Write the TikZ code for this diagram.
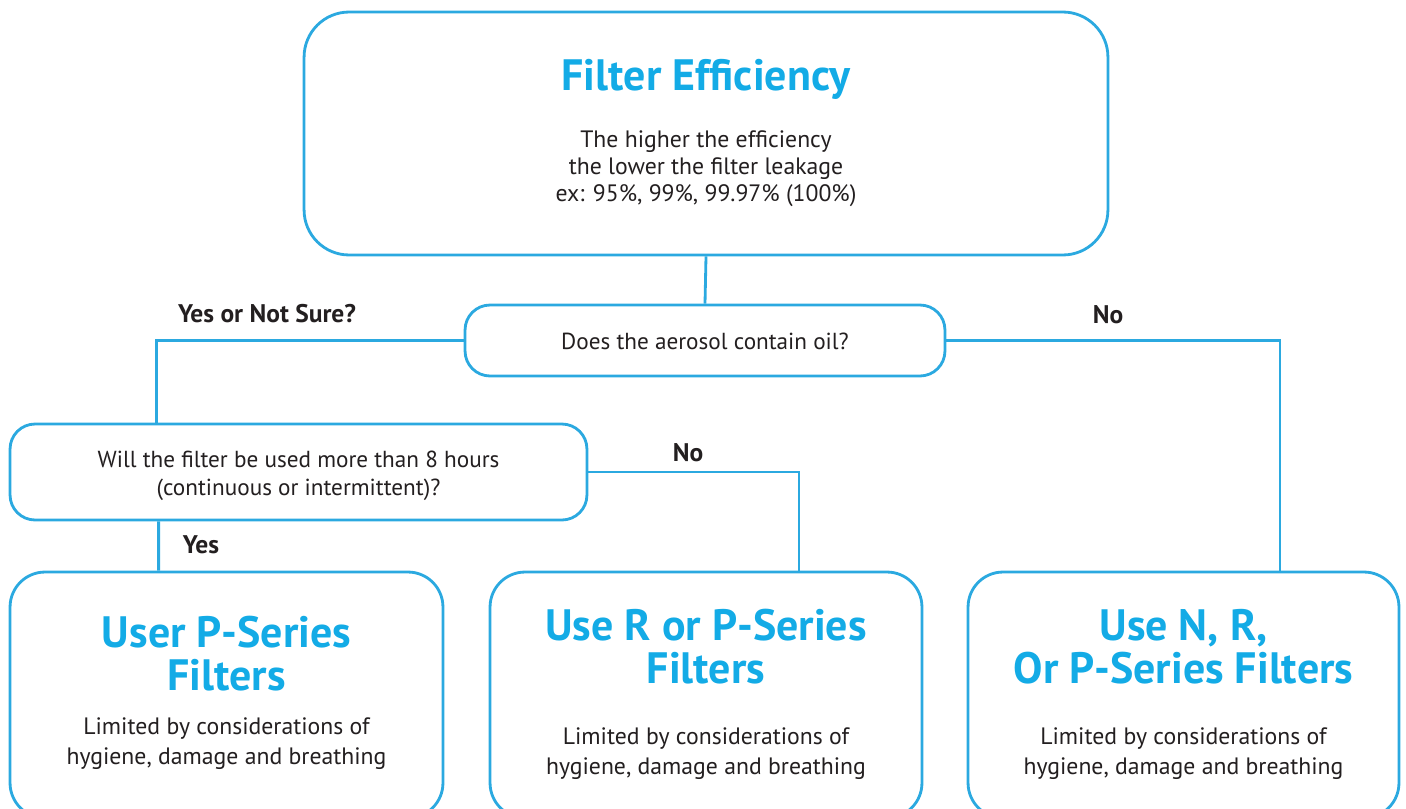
\documentclass[tikz,border=0pt]{standalone}
\usepackage{fontspec}
\setmainfont{PT Sans}
\usepackage{tikz}
\usetikzlibrary{calc}

\definecolor{lineblue}{HTML}{2BA9E0}
\definecolor{headblue}{HTML}{13ABE6}
\definecolor{textdark}{HTML}{231F20}

\begin{document}
\begin{tikzpicture}[x=0.02cm,y=-0.02cm,
  box/.style={draw=lineblue,line width=1.6pt,rounded corners=#1,fill=white},
  box/.default=0.5cm,
  link/.style={draw=lineblue,line width=1.6pt},
  head/.style={text=headblue,font=\bfseries\fontsize{25}{24.5}\selectfont,align=center},
  body/.style={text=textdark,font=\fontsize{13.5}{17}\selectfont,align=center},
  answer/.style={text=textdark,font=\bfseries\fontsize{14.5}{15}\selectfont}]
\useasboundingbox (0,0) rectangle (1406,808);

% boxes
\node[box=0.9cm,minimum width=16.08cm,minimum height=4.86cm] (top) at (706,133.5) {};
\node[box,minimum width=9.6cm,minimum height=1.42cm] (oil) at (705,340.5) {};
\node[box,minimum width=11.54cm,minimum height=1.92cm] (will) at (298.5,472) {};
\node[box=0.7cm,minimum width=8.66cm,minimum height=4.92cm] (left) at (226.5,695) {};
\node[box=0.7cm,minimum width=8.64cm,minimum height=4.92cm] (mid) at (706,695) {};
\node[box=0.7cm,minimum width=8.62cm,minimum height=4.92cm] (right) at (1183.5,695) {};

% texts
\node[head] (toptitle) at (706,79) {Filter Efficiency};
\node[body,font=\fontsize{13.5}{15.4}\selectfont] (topbody) at (706,169) {The higher the efficiency\\the lower the filter leakage\\ex: 95\%, 99\%, 99.97\% (100\%)};
\node[body,font=\fontsize{13.2}{15.8}\selectfont] (oiltext) at (705,341) {Does the aerosol contain oil?};
\node[body,font=\fontsize{13.2}{15.8}\selectfont] (willtext) at (298.5,476) {Will the filter be used more than 8 hours\\(continuous or intermittent)?};
\node[head] (lefttitle) at (226.5,654) {User P-Series\\Filters};
\node[body] (leftbody) at (226.5,744) {Limited by considerations of\\hygiene, damage and breathing};
\node[head] (midtitle) at (706,647) {Use R or P-Series\\Filters};
\node[body] (midbody) at (706,754) {Limited by considerations of\\hygiene, damage and breathing};
\node[head] (righttitle) at (1183.5,647) {Use N, R,\\Or P-Series Filters};
\node[body] (rightbody) at (1183.5,754) {Limited by considerations of\\hygiene, damage and breathing};

% answers
\node[answer] (yesnotsure) at (267,314) {Yes or Not Sure?};
\node[answer] (noright) at (1108,315) {No};
\node[answer] (nomid) at (688,453) {No};
\node[answer] (yesleft) at (201,545) {Yes};

% connectors
\draw[link] (top.south) -- (oil.north);
\draw[link] (oil.west) -| ([xshift=2.96cm]will.north west);
\draw[link] (oil.east) -| ([xshift=1.93cm]right.north);
\draw[link] (will.east) -| ([xshift=1.86cm]mid.north);
\draw[link] ([xshift=3cm]will.south west) -- ([xshift=3cm]left.north west);
\end{tikzpicture}
\end{document}
